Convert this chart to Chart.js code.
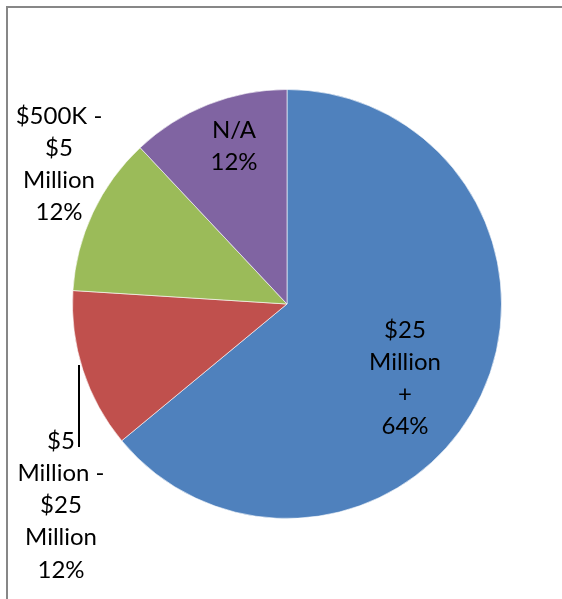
<!DOCTYPE html>
<html>
<head>
<meta charset="utf-8">
<script src="https://cdn.jsdelivr.net/npm/chart.js@4"></script>
<style>
  html, body { margin: 0; padding: 0; background: #fff; }
  canvas { display: block; }
</style>
</head>
<body>
<canvas id="chart" width="562" height="599"></canvas>
<script>
// Revenue bands and their shares (percent)
const categories = ['$25 Million +', '$5 Million - $25 Million', '$500K - $5 Million', 'N/A'];
const shares = [64, 12, 12, 12];
const sliceColors = ['#4F81BD', '#C0504D', '#9BBB59', '#8064A2'];

// Data label text lines for each slice (category wrapped, then percent)
const labelLines = [
  ['$25', 'Million', '+'],
  ['$5', 'Million -', '$25', 'Million'],
  ['$500K -', '$5', 'Million'],
  ['N/A']
];

// Label anchor (centre of first line) and leader line for each slice
const labelLayout = [
  { x: 405, y: 330, leader: null },
  { x: 61, y: 441, leader: { x: 79, y1: 365, y2: 447 } },
  { x: 59, y: 116, leader: null },
  { x: 234, y: 130, leader: null }
];
const lineGap = 32.2;

const framePlugin = {
  id: 'frame',
  beforeDraw(chart) {
    const ctx = chart.ctx;
    ctx.save();
    ctx.fillStyle = '#ffffff';
    ctx.fillRect(0, 0, chart.width, chart.height);
    ctx.strokeStyle = '#878787';
    ctx.lineWidth = 2;
    ctx.strokeRect(7, 7, chart.width + 20, chart.height + 20);
    ctx.restore();
  }
};

const labelPlugin = {
  id: 'sliceLabels',
  afterDatasetsDraw(chart) {
    const ctx = chart.ctx;
    const values = chart.data.datasets[0].data;
    ctx.save();
    ctx.fillStyle = '#000000';
    ctx.font = '24px Lato, "Open Sans", sans-serif';
    ctx.textAlign = 'center';
    ctx.textBaseline = 'middle';
    values.forEach((v, i) => {
      const pos = labelLayout[i];
      const lines = labelLines[i].concat([v + '%']);
      lines.forEach((t, k) => ctx.fillText(t, pos.x, pos.y + k * lineGap));
      if (pos.leader) {
        ctx.beginPath();
        ctx.strokeStyle = '#000000';
        ctx.lineWidth = 2;
        ctx.moveTo(pos.leader.x, pos.leader.y1);
        ctx.lineTo(pos.leader.x, pos.leader.y2);
        ctx.stroke();
      }
    });
    ctx.restore();
  }
};

new Chart(document.getElementById('chart'), {
  type: 'pie',
  data: {
    labels: categories,
    datasets: [{
      data: shares,
      backgroundColor: sliceColors,
      borderColor: 'rgba(255,255,255,0.6)',
      borderWidth: 1
    }]
  },
  options: {
    responsive: false,
    animation: false,
    layout: { padding: { left: 72, right: 60, top: 89, bottom: 80 } },
    plugins: {
      legend: { display: false },
      tooltip: { enabled: false }
    }
  },
  plugins: [framePlugin, labelPlugin]
});
</script>
</body>
</html>
